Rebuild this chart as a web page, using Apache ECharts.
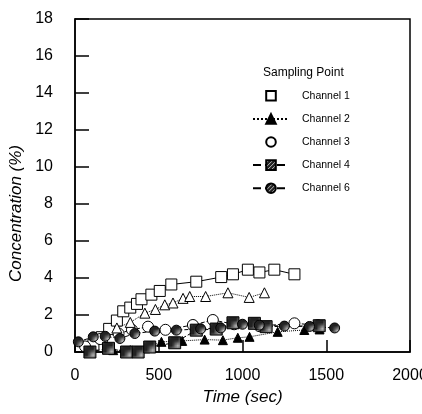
<!DOCTYPE html>
<html>
<head>
<meta charset="utf-8">
<script src="https://cdn.jsdelivr.net/npm/echarts@6/dist/echarts.min.js"></script>
<style>
  html, body { margin: 0; padding: 0; background: #fff; }
  #chart { width: 422px; height: 414px; }
</style>
</head>
<body>
<div id="chart"></div>
<script>
// values: [time (sec), concentration (%)]
const xTicks = [0, 500, 1000, 1500, 2000]
const yTicks = [0, 2, 4, 6, 8, 10, 12, 14, 16, 18]
const channelNames = ['Channel 1', 'Channel 2', 'Channel 3', 'Channel 4', 'Channel 6']

const ch1 = [[110, 0.4], [160, 0.8], [204, 1.25], [250, 1.7], [288, 2.2], [330, 2.4], [370, 2.6], [397, 2.85],
  [456, 3.1], [506, 3.3], [575, 3.65], [724, 3.8], [873, 4.05], [943, 4.2], [1032, 4.45], [1101, 4.3],
  [1190, 4.45], [1310, 4.2]]
const ch2 = [[228, 0.1], [330, 0.1], [420, 0.2], [516, 0.55], [640, 0.6], [774, 0.67], [883, 0.64],
  [972, 0.77], [1042, 0.82], [1210, 1.09], [1369, 1.19], [1460, 1.22]]
const ch3 = [[60, 0.3], [150, 0.7], [260, 1.0], [340, 1.2], [436, 1.37], [540, 1.2], [704, 1.46],
  [823, 1.73], [950, 1.5], [1100, 1.4], [1310, 1.55], [1450, 1.45]]
const ch4 = [[89, 0.0], [200, 0.2], [308, 0.0], [377, 0.0], [446, 0.27], [595, 0.5], [724, 1.18],
  [843, 1.24], [943, 1.58], [1071, 1.55], [1141, 1.37], [1458, 1.42]]
const ch6 = [[20, 0.55], [109, 0.82], [180, 0.85], [268, 0.73], [357, 1.0], [476, 1.13], [605, 1.18],
  [750, 1.25], [870, 1.3], [1000, 1.5], [1100, 1.45], [1250, 1.4], [1400, 1.38], [1550, 1.3]]
// open triangles, not in the legend
const ch5 = [[250, 1.3], [330, 1.6], [417, 2.1], [480, 2.3], [536, 2.55], [585, 2.65], [645, 2.9],
  [685, 3.0], [780, 3.0], [913, 3.2], [1040, 2.95], [1131, 3.2]]

// small crosshatch for the filled markers
function hatch () {
  const c = document.createElement('canvas')
  c.width = 4
  c.height = 4
  const g = c.getContext('2d')
  g.fillStyle = '#222'
  g.fillRect(0, 0, 4, 4)
  g.fillStyle = '#bbb'
  g.fillRect(0, 0, 1, 1)
  g.fillRect(2, 2, 1, 1)
  g.fillRect(1, 3, 1, 1)
  g.fillRect(3, 1, 1, 1)
  return { image: c, repeat: 'repeat' }
}
const pat = hatch()

function mkSeries (name, data, symbol, size, fill, dash) {
  return {
    name: name,
    type: 'line',
    data: data,
    symbol: symbol,
    symbolSize: size,
    showAllSymbol: true,
    lineStyle: { color: '#000', width: 1, type: dash },
    itemStyle: { color: fill, borderColor: '#000', borderWidth: 1 },
    emphasis: { disabled: true },
    z: 3
  }
}

// legend: ch1 and ch3 show only the marker
const noLine = { lineStyle: { opacity: 0 } }

const chart = echarts.init(document.getElementById('chart'))
chart.setOption({
  animation: false,
  grid: {
    left: 75, right: 12, top: 19, bottom: 62,
    outerBoundsMode: 'none',
    show: true, borderColor: '#000', borderWidth: 1.5, backgroundColor: 'transparent'
  },
  title: {
    text: 'Sampling Point',
    left: 263, top: 67, padding: 0,
    textStyle: { fontFamily: 'Liberation Sans', fontSize: 12, fontWeight: 'normal', color: '#000' }
  },
  legend: {
    data: [
      Object.assign({ name: 'Channel 1' }, noLine),
      'Channel 2',
      Object.assign({ name: 'Channel 3' }, noLine),
      'Channel 4',
      'Channel 6'
    ],
    orient: 'vertical',
    left: 252, top: 90, padding: 0,
    itemWidth: 36, itemHeight: 12, itemGap: 11.5,
    textStyle: { fontFamily: 'Liberation Sans', fontSize: 10.5, color: '#000', padding: [0, 0, 0, 8] },
    selectedMode: false
  },
  xAxis: {
    type: 'value',
    min: 0, max: 2000, interval: 500,
    name: 'Time (sec)',
    nameLocation: 'middle',
    nameGap: 36,
    nameTextStyle: { fontFamily: 'Liberation Sans', fontSize: 17, fontStyle: 'italic', color: '#000' },
    axisLine: { show: true, lineStyle: { color: '#000', width: 1.5 } },
    axisTick: { inside: true, length: 12, lineStyle: { color: '#000', width: 1.5 } },
    axisLabel: {
      margin: 16, color: '#000', fontFamily: 'Liberation Sans', fontSize: 16,
      showMaxLabel: true,
      formatter: v => xTicks.indexOf(v) >= 0 ? String(v) : ''
    },
    splitLine: { show: false }
  },
  yAxis: {
    type: 'value',
    min: 0, max: 18, interval: 2,
    name: 'Concentration (%)',
    nameLocation: 'middle',
    nameGap: 42,
    nameTextStyle: {
      fontFamily: 'Liberation Sans', fontSize: 17, fontStyle: 'italic', color: '#000',
      padding: [0, 56, 0, 0]
    },
    axisLine: { show: true, lineStyle: { color: '#000', width: 1.5 } },
    axisTick: { inside: true, length: 14, lineStyle: { color: '#000', width: 1.5 } },
    axisLabel: {
      margin: 22, color: '#000', fontFamily: 'Liberation Sans', fontSize: 16,
      formatter: v => yTicks.indexOf(v) >= 0 ? String(v) : ''
    },
    splitLine: { show: false }
  },
  series: [
    mkSeries('Channel 1', ch1, 'rect', 11, '#fff', 'solid'),
    mkSeries('Channel 2', ch2, 'triangle', 9, '#000', 'dotted'),
    mkSeries('Channel 3', ch3, 'circle', 11, '#fff', 'dashed'),
    mkSeries('Channel 4', ch4, 'rect', 12, pat, 'dashed'),
    mkSeries('Channel 6', ch6, 'circle', 10, pat, 'dashed'),
    mkSeries('Channel 5', ch5, 'triangle', 10, '#fff', 'dotted')
  ]
})
</script>
</body>
</html>
